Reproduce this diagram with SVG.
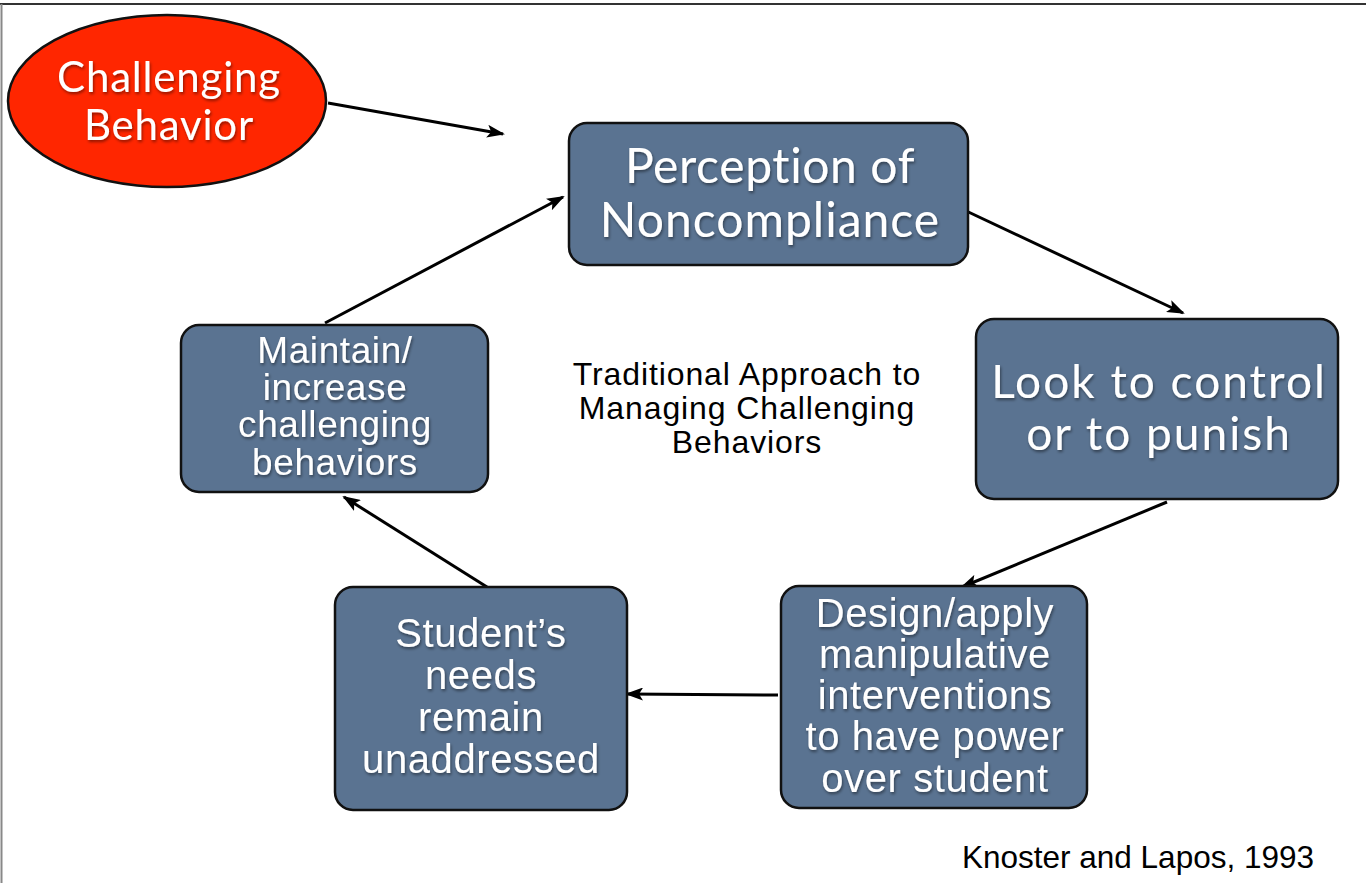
<svg xmlns="http://www.w3.org/2000/svg" width="1366" height="883" viewBox="0 0 1366 883">
<style>
.box{fill:#5a7391;stroke:#111;stroke-width:2.5}
.gill{font-family:Lato,"Open Sans",sans-serif;fill:#fff;text-anchor:middle}
.ar{font-family:"Liberation Sans",Arial,sans-serif;fill:#fff;text-anchor:middle;letter-spacing:0.6px}
.blk{font-family:"Liberation Sans",Arial,sans-serif;fill:#000}
.con{stroke:#000;stroke-width:3;fill:none;marker-end:url(#ah)}
</style>
<defs>
<marker id="ah" viewBox="0 0 18 13" refX="16" refY="6.5" markerWidth="18" markerHeight="13" markerUnits="userSpaceOnUse" orient="auto">
<path d="M0,0 L18,6.5 L0,13 L4,6.5 Z" fill="#000"/>
</marker>
<filter id="sh" x="-10%" y="-20%" width="120%" height="140%">
<feDropShadow dx="1" dy="2" stdDeviation="1.5" flood-color="#000" flood-opacity="0.45"/>
</filter>
</defs>
<rect x="0" y="0" width="1366" height="883" fill="#fff"/>
<line x1="0" y1="4" x2="1366" y2="4" stroke="#333" stroke-width="2"/>
<line x1="1.5" y1="4" x2="1.5" y2="883" stroke="#888" stroke-width="2"/>

<g id="connectors">
<line class="con" x1="328" y1="103" x2="503" y2="134"/>
<line class="con" x1="962" y1="209" x2="1183" y2="313"/>
<line class="con" x1="1167" y1="502" x2="962" y2="587"/>
<line class="con" x1="778" y1="695" x2="627" y2="694"/>
<line class="con" x1="487" y1="587" x2="344" y2="497"/>
<line class="con" x1="325" y1="323" x2="563" y2="197"/>
</g>

<g id="challenging">
<ellipse cx="167" cy="101" rx="159" ry="86" fill="#ff2600" stroke="#111" stroke-width="2.5"/>
<g class="gill" font-size="42" letter-spacing="0.8" filter="url(#sh)">
<text x="169" y="92">Challenging</text>
<text x="169" y="140">Behavior</text>
</g>
</g>

<g id="perception">
<rect class="box" x="569" y="123" width="399" height="142" rx="18"/>
<g class="gill" font-size="48" filter="url(#sh)">
<text x="770" y="183" letter-spacing="0.6">Perception of</text>
<text x="770" y="237" letter-spacing="1">Noncompliance</text>
</g>
</g>

<g id="control">
<rect class="box" x="976" y="319" width="362" height="180" rx="18"/>
<g class="gill" font-size="46" letter-spacing="2" filter="url(#sh)">
<text x="1159" y="398">Look to control</text>
<text x="1159" y="450">or to punish</text>
</g>
</g>

<g id="design">
<rect class="box" x="781" y="586" width="306" height="222" rx="18"/>
<g class="ar" font-size="40" filter="url(#sh)">
<text x="935" y="627">Design/apply</text>
<text x="935" y="668">manipulative</text>
<text x="935" y="709">interventions</text>
<text x="935" y="750">to have power</text>
<text x="935" y="792">over student</text>
</g>
</g>

<g id="student">
<rect class="box" x="335" y="587" width="292" height="223" rx="18"/>
<g class="ar" font-size="40" filter="url(#sh)">
<text x="481" y="647">Student’s</text>
<text x="481" y="689">needs</text>
<text x="481" y="731">remain</text>
<text x="481" y="773">unaddressed</text>
</g>
</g>

<g id="maintain">
<rect class="box" x="181" y="325" width="307" height="167" rx="18"/>
<g class="ar" font-size="37" filter="url(#sh)">
<text x="335" y="363">Maintain/</text>
<text x="335" y="400">increase</text>
<text x="335" y="437">challenging</text>
<text x="335" y="475">behaviors</text>
</g>
</g>

<g id="title" class="blk" font-size="32" letter-spacing="0.9" text-anchor="middle">
<text x="747" y="385">Traditional Approach to</text>
<text x="747" y="419">Managing Challenging</text>
<text x="747" y="453">Behaviors</text>
</g>

<g id="citation">
<text class="blk" x="1138" y="868" font-size="31.5" text-anchor="middle">Knoster and Lapos, 1993</text>
</g>
</svg>
